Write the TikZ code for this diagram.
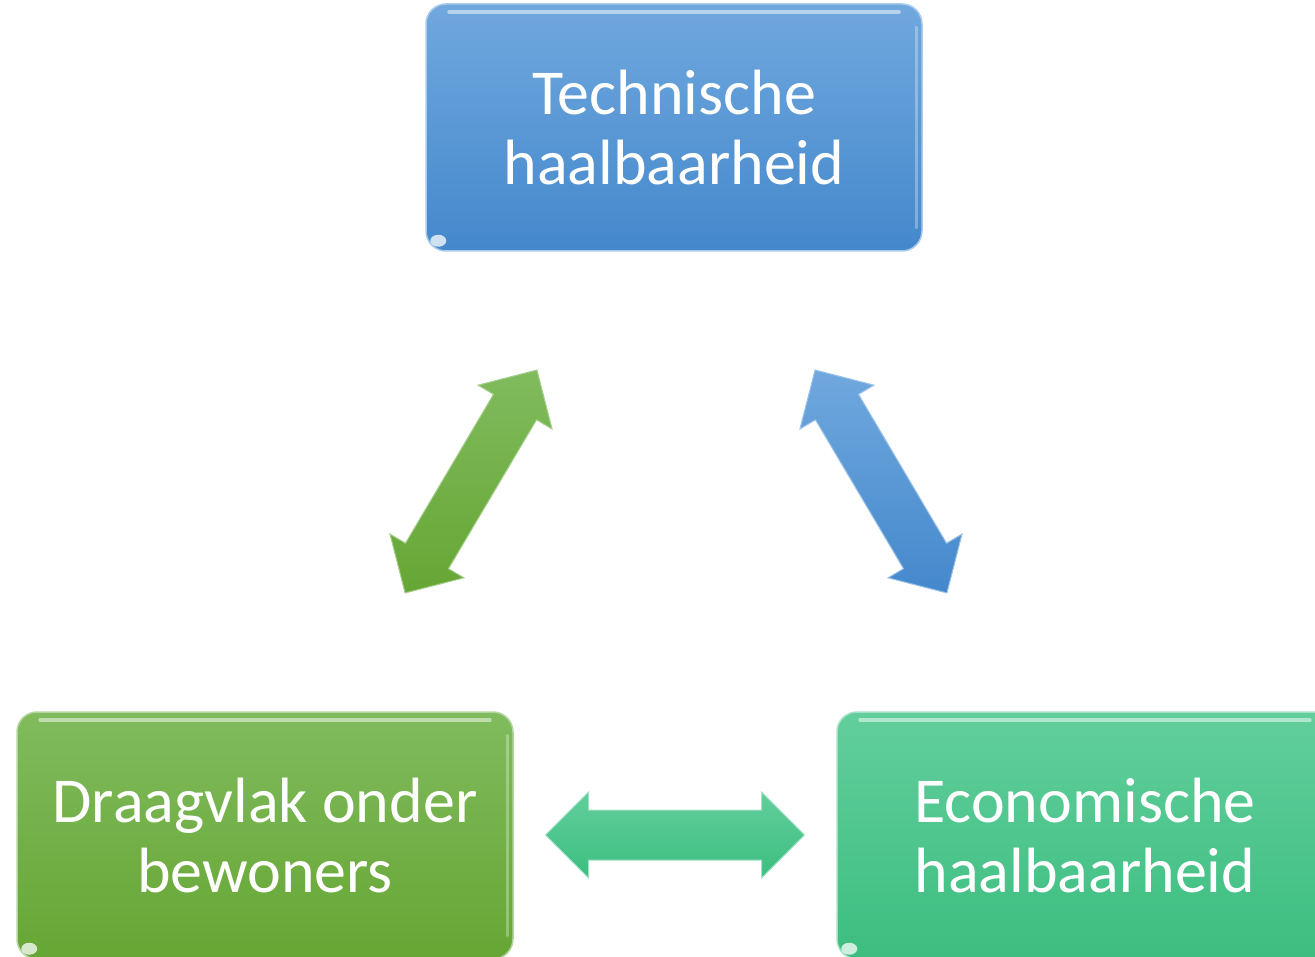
\documentclass[tikz,border=0pt]{standalone}
\usepackage{fontspec}
\setmainfont{Carlito}
\definecolor{blueTop}{RGB}{112,168,222}
\definecolor{blueBot}{RGB}{68,136,204}
\definecolor{greenTop}{RGB}{128,187,93}
\definecolor{greenBot}{RGB}{102,166,52}
\definecolor{tealTop}{RGB}{98,206,156}
\definecolor{tealBot}{RGB}{60,190,128}
\tikzset{
  box/.style={rounded corners=20pt, minimum width=496pt, minimum height=247pt,
    text=white, align=center, font=\fontsize{64}{70}\selectfont,
    line width=1.5pt, inner sep=0pt},
  gloss/.style={white, opacity=0.5, line width=4pt, line cap=round},
  blob/.style={white, opacity=0.75},
  blockarrow/.style={line width=1pt},
}
\newcommand{\dblarrowpath}{(-129.5,0) -- (-86.5,43) -- (-86.5,25) -- (86.5,25) -- (86.5,43) -- (129.5,0) -- (86.5,-43) -- (86.5,-25) -- (-86.5,-25) -- (-86.5,-43) -- cycle}
\begin{document}
\begin{tikzpicture}[x=1pt,y=-1pt]
\useasboundingbox (0,0) rectangle (1315,957);
\clip (0,0) rectangle (1315,957);

% boxes
\node[box, top color=blueTop, bottom color=blueBot, draw=blueTop!60!white] (tech) at (674,127.5) {Technische\\haalbaarheid};
\node[box, top color=greenTop, bottom color=greenBot, draw=greenTop!60!white] (draag) at (265,835.5) {Draagvlak onder\\bewoners};
\node[box, top color=tealTop, bottom color=tealBot, draw=tealTop!60!white] (econ) at (1085,835.5) {Economische\\haalbaarheid};

% gloss highlights
\foreach \b in {tech,draag,econ}{
  \draw[gloss] ([xshift=24pt,yshift=-9pt]\b.north west) -- ([xshift=-24pt,yshift=-9pt]\b.north east);
  \draw[gloss, opacity=0.3, line width=3pt] ([xshift=-6pt,yshift=-24pt]\b.north east) -- ([xshift=-6pt,yshift=24pt]\b.south east);
  \fill[blob] ([xshift=13pt,yshift=11pt]\b.south west) ellipse (8pt and 6pt);
}

% arrow anchor coordinates
\coordinate (aTD) at (471,481.5);
\coordinate (aTE) at (881,481.5);
\coordinate (aDE) at (675,835);

% green arrow: Draagvlak <-> Technische
\begin{scope}[shift={(aTD)}, rotate=59.4]
  \shade[blockarrow, top color=greenTop, bottom color=greenBot, draw=greenTop!70!white] \dblarrowpath;
\end{scope}
% blue arrow: Technische <-> Economische
\begin{scope}[shift={(aTE)}, rotate=-59.4]
  \shade[blockarrow, top color=blueTop, bottom color=blueBot, draw=blueTop!70!white] \dblarrowpath;
\end{scope}
% teal arrow: Draagvlak <-> Economische
\begin{scope}[shift={(aDE)}]
  \shade[blockarrow, top color=tealTop, bottom color=tealBot, draw=tealTop!60!white] \dblarrowpath;
\end{scope}
\end{tikzpicture}
\end{document}
